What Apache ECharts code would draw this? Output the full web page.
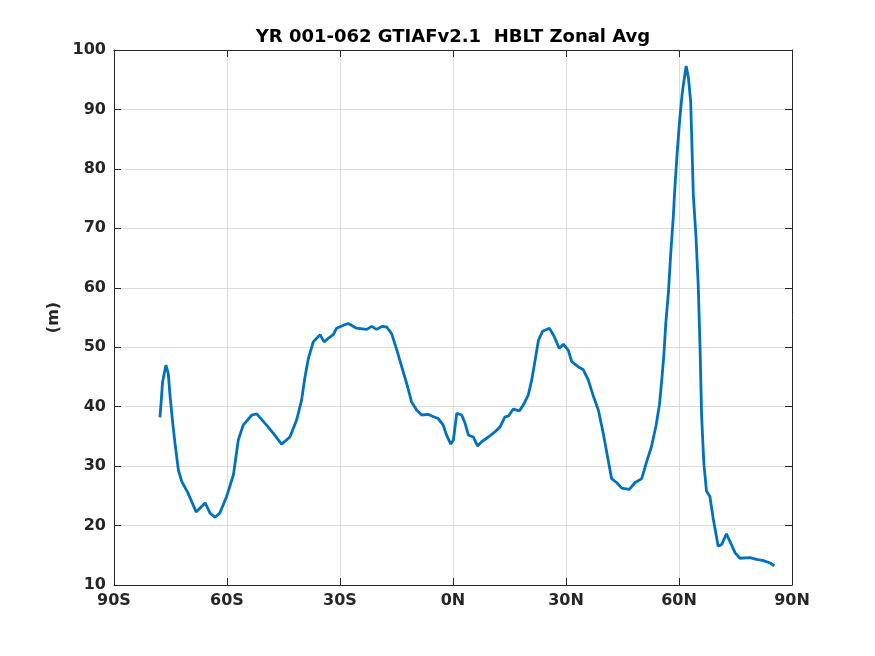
<!DOCTYPE html>
<html>
<head>
<meta charset="utf-8">
<script src="https://cdn.jsdelivr.net/npm/echarts@6/dist/echarts.min.js"></script>
<style>html,body{margin:0;padding:0;background:#fff}#c{width:875px;height:656px}</style>
</head>
<body>
<div id="c"></div>
<script>
const titleText = 'YR 001-062 GTIAFv2.1  HBLT Zonal Avg';
const yName = '(m)';
const xTicks = [-90, -60, -30, 0, 30, 60, 90];
const xTickLabels = ['90S', '60S', '30S', '0N', '30N', '60N', '90N'];
const lats = [-77.8,-77.5,-77.1,-76.2,-75.6,-75.1,-74.4,-73.8,-72.9,-72.0,-70.3,-68.2,-65.8,-64.5,-63.2,-61.9,-60.1,-58.3,-57.0,-55.7,-53.4,-52.1,-49.5,-47.7,-45.5,-43.3,-41.5,-40.2,-39.3,-38.4,-37.1,-35.3,-34.2,-33.1,-31.8,-30.9,-29.1,-27.8,-25.6,-22.9,-21.6,-20.3,-18.9,-17.6,-16.3,-14.9,-13.6,-12.3,-11.0,-9.6,-8.3,-6.5,-5.2,-3.9,-2.6,-1.7,-0.6,0.1,1.0,2.3,3.2,4.1,5.4,6.5,7.6,9.4,11.2,12.5,13.8,14.7,16.0,17.6,18.7,20.0,20.9,21.8,22.7,23.8,25.6,26.8,28.2,29.3,30.6,31.5,33.3,34.6,35.9,37.3,38.6,39.9,41.2,42.1,43.5,44.8,46.8,48.3,50.1,51.4,52.7,53.9,54.8,55.4,56.0,56.5,57.2,57.8,58.5,58.9,59.5,60.2,60.9,61.9,62.5,63.1,63.4,63.8,64.5,65.1,65.6,66.0,66.6,67.3,68.2,69.1,70.4,71.3,72.6,73.7,74.9,76.2,78.8,80.6,82.4,84.2,85.3];
const vals = [38.2,40.6,44.2,47.0,45.6,41.7,37.2,33.8,29.3,27.4,25.4,22.3,23.8,22.1,21.4,22.1,24.9,28.5,34.4,36.9,38.6,38.8,36.9,35.5,33.7,34.9,37.8,41.1,45.0,48.1,50.9,52.1,50.9,51.5,52.1,53.2,53.7,54.0,53.2,53.0,53.5,53.0,53.5,53.4,52.3,49.5,46.7,43.9,40.8,39.4,38.6,38.7,38.3,38.0,36.9,35.2,33.7,34.4,38.9,38.6,37.2,35.2,34.9,33.4,34.1,34.9,35.8,36.6,38.3,38.4,39.6,39.3,40.3,42.0,44.5,47.8,51.2,52.7,53.2,51.9,49.8,50.5,49.5,47.6,46.7,46.2,44.5,41.7,39.4,35.5,31.0,27.9,27.2,26.3,26.1,27.2,27.9,30.7,33.3,36.8,40.3,44.3,48.9,54.1,59.3,65.7,72.1,76.8,82.6,88.4,93.0,97.3,95.3,91.3,84.9,75.6,68.7,60.5,49.6,38.5,30.4,25.8,24.9,21.1,16.5,16.8,18.6,17.1,15.4,14.5,14.6,14.3,14.1,13.7,13.2];

const data = lats.map((x, i) => [x, vals[i]]);
const txt = '#262626';
const font = 'DejaVu Sans';
const gridLine = { show: true, lineStyle: { color: '#dcdcdc', width: 1 } };
const axLine = { show: true, onZero: false, lineStyle: { color: txt, width: 1 } };
const tick = { show: true, inside: true, length: 7, lineStyle: { color: txt, width: 1 } };
const labelMap = {};
xTicks.forEach((t, i) => labelMap[t] = xTickLabels[i]);

const chart = echarts.init(document.getElementById('c'));
chart.setOption({
  animation: false,
  backgroundColor: '#fff',
  graphic: [{
    type: 'text', x: 453, y: 37,
    style: {
      text: titleText, align: 'center', verticalAlign: 'middle',
      font: 'bold 18px "DejaVu Sans"', fill: '#000'
    }
  }],
  grid: { left: 114, right: 83, top: 50, bottom: 71, containLabel: false },
  xAxis: [{
    type: 'value', min: -90, max: 90, interval: 30, position: 'bottom',
    axisLine: axLine, axisTick: tick, splitLine: gridLine,
    axisLabel: { formatter: v => labelMap[v] || '', fontFamily: font, fontWeight: 'bold', fontSize: 16, color: txt, margin: 8 }
  }, {
    type: 'value', min: -90, max: 90, interval: 30, position: 'top',
    axisLine: axLine, axisTick: tick, splitLine: { show: false }, axisLabel: { show: false }
  }],
  yAxis: [{
    type: 'value', min: 10, max: 100, interval: 10, position: 'left',
    name: yName, nameLocation: 'middle', nameGap: 52,
    nameTextStyle: { fontFamily: font, fontWeight: 'bold', fontSize: 16, color: txt },
    axisLine: axLine, axisTick: tick, splitLine: gridLine,
    axisLabel: { fontFamily: font, fontWeight: 'bold', fontSize: 16, color: txt, margin: 8 }
  }, {
    type: 'value', min: 10, max: 100, interval: 10, position: 'right',
    axisLine: axLine, axisTick: tick, splitLine: { show: false }, axisLabel: { show: false }
  }],
  series: [{
    type: 'line', data: data, xAxisIndex: 0, yAxisIndex: 0,
    showSymbol: false, smooth: false,
    lineStyle: { color: '#0072BD', width: 2.8 }
  }]
});
</script>
</body>
</html>
